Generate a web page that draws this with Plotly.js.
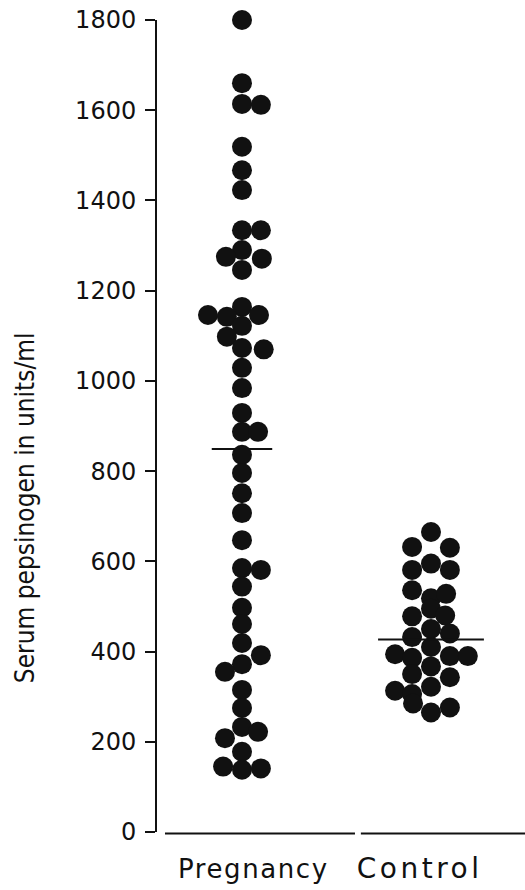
<!DOCTYPE html>
<html>
<head>
<meta charset="utf-8">
<script src="https://cdn.plot.ly/plotly-3.0.1.min.js"></script>
<style>
html,body{margin:0;padding:0;background:#fff;}
#chart{width:525px;height:890px;}
#chart .xtick text{letter-spacing:1.6px;}
#chart .xtick:nth-of-type(2) text{letter-spacing:3.5px;font-size:28px !important;}
</style>
</head>
<body>
<div id="chart"></div>
<script>
// ---- data ----
const categories = ["Pregnancy", "Control"];
const yAxisTitle = "Serum pepsinogen in units/ml";

// Pregnancy group: serum pepsinogen (units/ml) and beeswarm column (in dot widths)
const pregnancyValues = [1800, 1660, 1614, 1612, 1519, 1467, 1423, 1334, 1334, 1290, 1275, 1271, 1246,
  1164, 1146, 1142, 1146, 1122, 1098, 1073, 1070, 1029, 984, 929, 887, 887, 836, 796, 751, 707, 647,
  585, 581, 544, 497, 461, 419, 392, 372, 355, 315, 275, 233, 222, 208, 178, 145, 138, 141];
const pregnancyColumns = [0, 0, 0, 1, 0, 0, 0, 0, 1, 0, -0.85, 1.05, 0,
  0, -1.8, -0.8, 0.9, 0, -0.8, 0, 1.15, 0, 0, 0, 0, 0.85, 0, 0, 0, 0, 0,
  0, 1, 0, 0, 0, 0, 1, 0, -0.9, 0, 0, 0, 0.85, -0.9, 0, -1, 0, 1];

// Control group
const controlValues = [665, 632, 630, 581, 595, 581, 536, 518, 528, 478, 495, 480, 432, 450, 440,
  394, 386, 410, 390, 390, 350, 367, 343, 313, 306, 322, 285, 265, 276];
const controlColumns = [0, -1, 1, -1, 0, 1, -1, 0, 0.8, -1, 0, 0.75, -1, 0, 1,
  -1.9, -1, 0, 1, 1.95, -1, 0, 1, -1.9, -1, 0, -0.95, 0, 1];

// Group means (horizontal bars)
const groupMeans = [849, 427];

// ---- layout helpers (styling only) ----
const colStep = 0.1;          // one dot width in x-axis units
const meanHalfWidth = [0.16, 0.28];

function swarmX(groupIdx, cols) { return cols.map(c => groupIdx + c * colStep); }

const dotMarker = {size: 20, color: "#111111", line: {width: 0}};

const traces = [
  {x: swarmX(0, pregnancyColumns), y: pregnancyValues, type: "scatter", mode: "markers",
   name: categories[0], marker: dotMarker, cliponaxis: false, hoverinfo: "y"},
  {x: swarmX(1, controlColumns), y: controlValues, type: "scatter", mode: "markers",
   name: categories[1], marker: dotMarker, cliponaxis: false, hoverinfo: "y"}
];
groupMeans.forEach((m, i) => {
  traces.push({x: [i - meanHalfWidth[i], i + meanHalfWidth[i]], y: [m, m], type: "scatter",
    mode: "lines", line: {color: "#111111", width: 2}, name: categories[i] + " mean",
    cliponaxis: false, hoverinfo: "skip"});
});

const layout = {
  width: 525, height: 890,
  margin: {l: 157, r: 0, t: 20, b: 58, pad: 0},
  paper_bgcolor: "#ffffff", plot_bgcolor: "#ffffff",
  showlegend: false,
  font: {family: "DejaVu Sans, sans-serif", color: "#111111"},
  xaxis: {
    range: [-0.4497, 1.4974], showgrid: false, zeroline: false, showline: false,
    tickvals: [0.06, 0.94], ticktext: categories,
    ticks: "outside", ticklen: 14, tickcolor: "rgba(0,0,0,0)",
    tickfont: {size: 26, family: "DejaVu Sans, sans-serif", color: "#111111"}
  },
  yaxis: {
    range: [0, 1800], dtick: 200, tick0: 0, showgrid: false, zeroline: false,
    showline: true, linecolor: "#111111", linewidth: 2,
    ticks: "outside", ticklen: 10, tickwidth: 2, tickcolor: "#111111",
    ticklabelstandoff: 4,
    tickfont: {size: 24, family: "DejaVu Sans, sans-serif", color: "#111111"}
  },
  annotations: [
    {text: yAxisTitle, xref: "paper", yref: "paper", x: -0.3587, y: 0.40,
     xanchor: "center", yanchor: "middle", textangle: -90, showarrow: false,
     font: {size: 26, family: "DejaVu Sans Condensed, DejaVu Sans, sans-serif", color: "#111111"}}
  ],
  shapes: [
    {type: "line", xref: "paper", yref: "paper", x0: 0.0217, x1: 0.538, y0: -0.002, y1: -0.002,
     line: {color: "#111111", width: 2}},
    {type: "line", xref: "paper", yref: "paper", x0: 0.554, x1: 1.0, y0: -0.002, y1: -0.002,
     line: {color: "#111111", width: 2}}
  ]
};

Plotly.newPlot("chart", traces, layout, {displayModeBar: false, staticPlot: true});
</script>
</body>
</html>
